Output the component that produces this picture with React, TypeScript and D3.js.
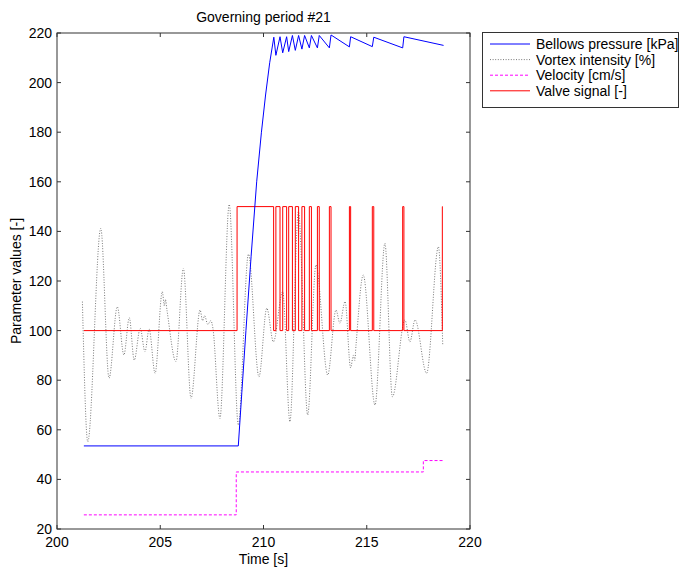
import React from "react";
import * as d3 from "d3";

// chart values
const pressureTime = [201.3, 208.78, 208.95, 209.15, 209.4, 209.67, 209.9, 210.1, 210.3, 210.5, 210.6, 210.8, 210.93, 211.12, 211.22, 211.4, 211.54, 211.7, 211.86, 211.99, 212.22, 212.32, 212.61, 212.7, 213.19, 213.27, 214.16, 214.22, 215.27, 215.34, 216.74, 216.8, 218.72];
const pressureVals = [53.5, 53.5, 75, 100, 130, 160, 180, 195, 208, 218.3, 211, 218.5, 212, 218.5, 212.5, 219, 213, 219, 213.5, 219, 214, 219, 214, 219, 214, 219.2, 214.4, 218.5, 214.5, 218.3, 214, 218.5, 215];

const vortexTime = [201.23, 201.49, 202.12, 202.52, 202.92, 203.24, 203.5, 203.74, 204.03, 204.26, 204.46, 204.75, 205.1, 205.2, 205.25, 205.33, 205.76, 206.12, 206.49, 206.93, 207.05, 207.15, 207.3, 207.45, 207.55, 207.89, 208.34, 208.78, 209.27, 209.78, 210.16, 210.48, 210.93, 211.28, 211.69, 212.14, 212.54, 213.11, 213.51, 213.7, 213.95, 214.22, 214.35, 214.42, 214.48, 214.83, 215.4, 215.88, 216.24, 216.85, 217.09, 217.34, 217.9, 218.47, 218.68];
const vortexVals = [111.7, 55.2, 141.2, 80.8, 109.6, 90.2, 105.2, 88.1, 100.9, 91.5, 100.6, 82.8, 115.7, 110, 112.5, 108, 87.5, 125.1, 72.7, 108.3, 104, 106, 102.5, 104, 101, 64.6, 150.9, 61.9, 130.8, 81.4, 109, 95.5, 115.7, 63.3, 148, 66, 126.5, 82.1, 108.3, 103, 111.7, 85, 90, 88, 94.2, 122.4, 70, 135.2, 73.3, 104.3, 95.5, 104.3, 82.8, 133.8, 94.2];

const velocityTime = [201.3, 208.68, 217.74, 218.68];
const velocityVals = [25.7, 43, 47.6, 47.6];

const valveTime = [201.3, 208.72, 210.49, 210.6, 210.8, 210.93, 211.12, 211.22, 211.4, 211.54, 211.7, 211.86, 211.99, 212.22, 212.32, 212.61, 212.7, 213.19, 213.27, 214.16, 214.22, 215.27, 215.34, 216.74, 216.8, 218.66, 218.68];
const valveVals = [100, 150, 100, 150, 100, 150, 100, 150, 100, 150, 100, 150, 100, 150, 100, 150, 100, 150, 100, 150, 100, 150, 100, 150, 100, 150, 150];

const xTicks = [200, 205, 210, 215, 220];
const yTicks = [20, 40, 60, 80, 100, 120, 140, 160, 180, 200, 220];
const legendLabels = ["Bellows pressure [kPa]", "Vortex intensity [%]", "Velocity [cm/s]", "Valve signal [-]"];

const W = 680, H = 568;
const left = 57, right = 470, top = 33, bottom = 529;
const font = "'Liberation Sans', Arial, sans-serif";
const fs = 14;

type Pt = [number, number];
const zip = (t: number[], v: number[]): Pt[] => t.map((d, i) => [d, v[i]]);

export default function App() {
  const x = d3.scaleLinear().domain([200, 220]).range([left, right]);
  const y = d3.scaleLinear().domain([20, 220]).range([bottom, top]);

  const lin = d3.line<Pt>().x(d => x(d[0])).y(d => y(d[1]));
  const smooth = d3.line<Pt>().x(d => x(d[0])).y(d => y(d[1])).curve(d3.curveMonotoneX);
  const step = d3.line<Pt>().x(d => x(d[0])).y(d => y(d[1])).curve(d3.curveStepAfter);

  const series = [
    { stroke: "#0000ff", dash: undefined, width: 1 },
    { stroke: "#555", dash: "1,1.6", width: 0.8 },
    { stroke: "#ff00ff", dash: "3,2", width: 1 },
    { stroke: "#ff0000", dash: undefined, width: 1 },
  ];

  return (
    <svg width={W} height={H} style={{ position: "absolute", left: 0, top: 0, background: "#fff" }} fontFamily={font}>
      <rect x={0} y={0} width={W} height={H} fill="#fff" />
      <text x={(left + right) / 2} y={22} textAnchor="middle" fontSize={fs}>Governing period #21</text>

      {/* ticks */}
      {xTicks.map(t => (
        <g key={"x" + t}>
          <line x1={x(t)} x2={x(t)} y1={bottom} y2={bottom - 4} stroke="#333" />
          <line x1={x(t)} x2={x(t)} y1={top} y2={top + 4} stroke="#333" />
          <text x={x(t)} y={bottom + 18} textAnchor="middle" fontSize={fs}>{t}</text>
        </g>
      ))}
      {yTicks.map(t => (
        <g key={"y" + t}>
          <line x1={left} x2={left + 4} y1={y(t)} y2={y(t)} stroke="#333" />
          <line x1={right} x2={right - 4} y1={y(t)} y2={y(t)} stroke="#333" />
          <text x={left - 5} y={y(t) + 5} textAnchor="end" fontSize={fs}>{t}</text>
        </g>
      ))}
      <text x={(left + right) / 2} y={564} textAnchor="middle" fontSize={fs}>Time [s]</text>
      <text transform={`translate(21,${(top + bottom) / 2}) rotate(-90)`} textAnchor="middle" fontSize={fs}>Parameter values [-]</text>

      {/* data */}
      <path d={smooth(zip(vortexTime, vortexVals)) || ""} fill="none" stroke={series[1].stroke} strokeWidth={series[1].width} strokeDasharray={series[1].dash} />
      <path d={step(zip(velocityTime, velocityVals)) || ""} fill="none" stroke={series[2].stroke} strokeWidth={1} strokeDasharray={series[2].dash} />
      <path d={step(zip(valveTime, valveVals)) || ""} fill="none" stroke={series[3].stroke} strokeWidth={1} />
      <path d={lin(zip(pressureTime, pressureVals)) || ""} fill="none" stroke={series[0].stroke} strokeWidth={1} />

      <rect x={left} y={top} width={right - left} height={bottom - top} fill="none" stroke="#333" />

      {/* legend */}
      <rect x={482.5} y={32.5} width={196} height={75} fill="#fff" stroke="#333" />
      {legendLabels.map((l, i) => {
        const ly = 44 + i * 15.6;
        const s = series[i];
        return (
          <g key={l}>
            <line x1={490} x2={530} y1={ly} y2={ly} stroke={s.stroke} strokeWidth={s.width} strokeDasharray={s.dash} />
            <text x={536} y={ly + 5} fontSize={fs}>{l}</text>
          </g>
        );
      })}
    </svg>
  );
}
